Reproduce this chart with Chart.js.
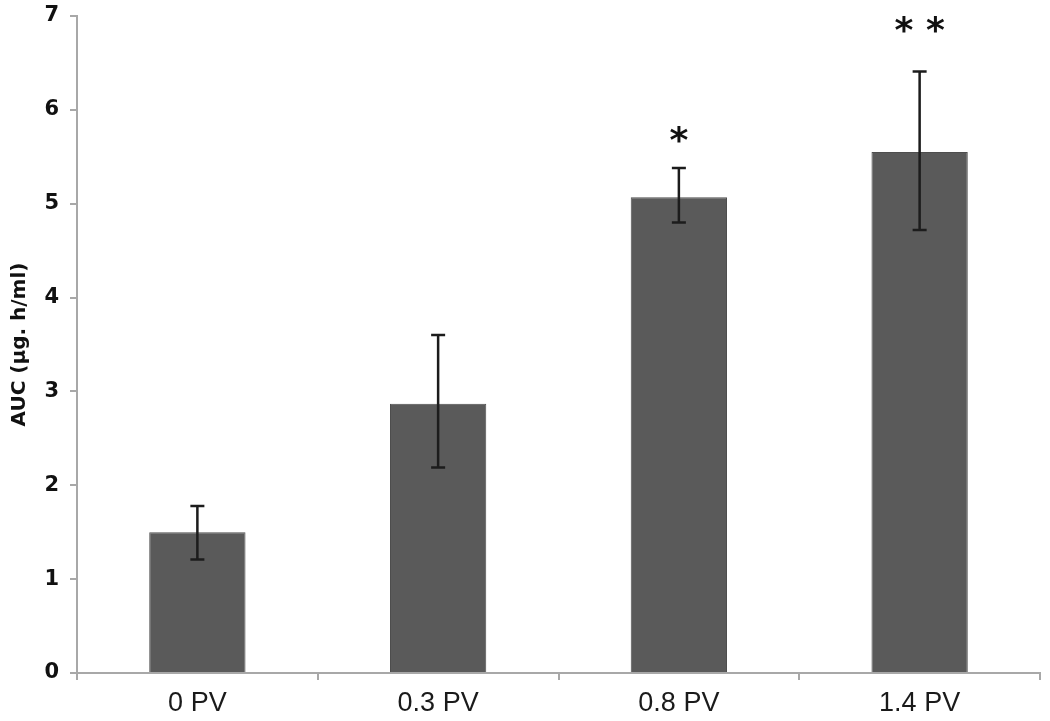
<!DOCTYPE html>
<html>
<head>
<meta charset="utf-8">
<script src="https://cdn.jsdelivr.net/npm/chart.js@4.4.1/dist/chart.umd.min.js"></script>
<style>
  html, body { margin: 0; padding: 0; background: #fff; }
  #wrap { width: 1050px; height: 721px; }
</style>
</head>
<body>
<div id="wrap"><canvas id="auc-chart" width="1050" height="721"></canvas></div>
<script>
// data
const groups    = ['0 PV', '0.3 PV', '0.8 PV', '1.4 PV'];
const aucMean   = [1.50, 2.87, 5.07, 5.55];
const errHigh   = [1.78, 3.60, 5.38, 6.41];
const errLow    = [1.21, 2.19, 4.80, 4.72];
const signif    = ['', '', '*', '* *'];
const starLevel = [null, null, 5.70, 6.88];   // where the stars sit, in AUC units
const yTicks    = [0, 1, 2, 3, 4, 5, 6, 7];

const AXIS_GREY = '#a8a8a8';

// error bars + significance stars, drawn through the y scale
const errorBarPlugin = {
    id: 'errorBars',
    afterDatasetsDraw(chart) {
        const ctx = chart.ctx;
        const y = chart.scales.y;
        const meta = chart.getDatasetMeta(0);
        ctx.save();
        meta.data.forEach((bar, i) => {
            const x = bar.x;
            const yTop = y.getPixelForValue(errHigh[i]);
            const yBot = y.getPixelForValue(errLow[i]);
            ctx.strokeStyle = '#1c1c1c';
            ctx.lineWidth = 2.5;
            ctx.beginPath();
            ctx.moveTo(x, yTop); ctx.lineTo(x, yBot);
            ctx.moveTo(x - 7, yTop); ctx.lineTo(x + 7, yTop);
            ctx.moveTo(x - 7, yBot); ctx.lineTo(x + 7, yBot);
            ctx.stroke();

            if (signif[i]) {
                ctx.fillStyle = '#111';
                ctx.font = 'bold 36px "DejaVu Sans", sans-serif';
                ctx.textAlign = 'center';
                ctx.textBaseline = 'middle';
                // asterisk glyph sits high in its box, nudge it down a bit
                ctx.fillText(signif[i], x, y.getPixelForValue(starLevel[i]) + 5);
            }
        });
        ctx.restore();
    }
};

new Chart(document.getElementById('auc-chart').getContext('2d'), {
    type: 'bar',
    data: {
        labels: groups,
        datasets: [{
            label: 'AUC',
            data: aucMean,
            backgroundColor: '#5a5a5a',
            borderColor: '#4e4e4e',
            borderWidth: 1,
            categoryPercentage: 1.0,
            barPercentage: 0.4
        }]
    },
    options: {
        responsive: false,
        animation: false,
        layout: { padding: { top: 16, right: 10, left: 0, bottom: 0 } },
        plugins: { legend: { display: false }, tooltip: { enabled: false } },
        scales: {
            x: {
                grid: { offset: true, drawOnChartArea: false, color: AXIS_GREY, lineWidth: 2, tickLength: 7 },
                border: { color: AXIS_GREY, width: 2 },
                ticks: {
                    color: '#1a1a1a',
                    padding: 7,
                    font: { family: '"Liberation Sans", Arial, sans-serif', size: 27 }
                },
                afterFit(scale) { scale.height = 48; }
            },
            y: {
                min: 0, max: 7,
                afterBuildTicks(scale) { scale.ticks = yTicks.map(v => ({ value: v })); },
                grid: { drawOnChartArea: false, color: AXIS_GREY, lineWidth: 2, tickLength: 7 },
                border: { color: AXIS_GREY, width: 2 },
                ticks: {
                    color: '#111',
                    padding: 11,
                    font: { family: '"DejaVu Sans", Verdana, sans-serif', size: 21, weight: 'bold' }
                },
                title: {
                    display: true,
                    text: 'AUC (µg. h/ml)',
                    color: '#111',
                    padding: { top: 8, bottom: 0 },
                    font: { family: '"DejaVu Sans", Verdana, sans-serif', size: 20, weight: 'bold' }
                },
                afterFit(scale) {
                    scale.width = 77;
                    // let the top label run into the padding, like the original
                    scale.paddingTop = 0;
                    scale.paddingBottom = 0;
                }
            }
        }
    },
    plugins: [errorBarPlugin]
});
</script>
</body>
</html>
